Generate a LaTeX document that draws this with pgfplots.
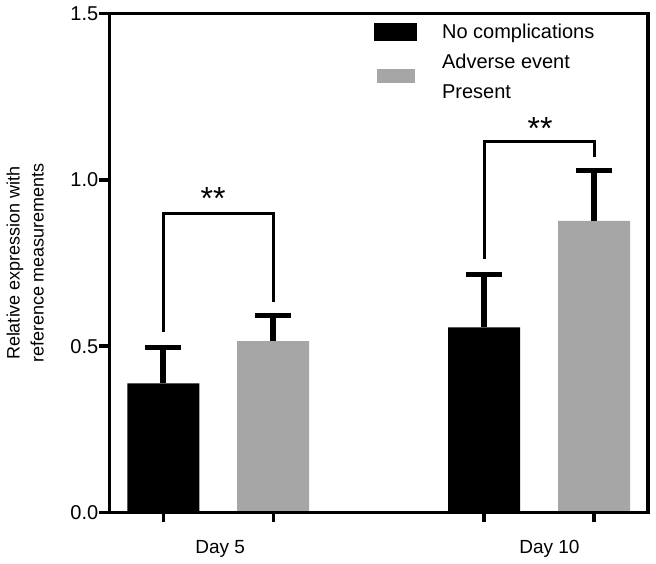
\documentclass[border=0pt]{standalone}
\usepackage{fontspec}
\setmainfont{Liberation Sans}
\usepackage{pgfplots}
\pgfplotsset{compat=1.18}
\usetikzlibrary{calc}
\definecolor{bargray}{HTML}{A6A6A6}

\begin{document}
\begin{tikzpicture}
\begin{axis}[
  scale only axis, width=269.5pt, height=249.5pt,
  xmin=0.509, xmax=5.409, ymin=0, ymax=1.5,
  clip=false, axis on top,
  axis line style={line width=1.7pt, line cap=rect},
  xtick={1,2,3.918,4.918}, xticklabels={},
  ytick={0,0.5,1,1.5},
  yticklabel style={/pgf/number format/fixed, /pgf/number format/fixed zerofill,
    /pgf/number format/precision=1, xshift=3pt},
  /pgf/number format/assume math mode=true,
  tick label style={font=\fontsize{10}{12}\selectfont},
  tick align=outside, xtick pos=bottom, ytick pos=left,
  major tick length=5pt,
  tick style={line width=1.7pt, black},
  ylabel={Relative expression with\\reference measurements},
  ylabel style={align=center, font=\fontsize{9}{12}\selectfont,
    at={(axis description cs:-0.156,0.5)}, anchor=center},
  legend cell align=left,
  legend style={at={(axis description cs:0.4917,0.9805)}, anchor=north west,
    draw=none, fill=none, inner sep=0pt, outer sep=0pt,
    row sep=6.5pt, column sep=12.5pt,
    nodes={inner sep=0pt, align=left},
    font=\fontsize{10}{15}\selectfont},
]
\addplot[ybar, bar width=0.655, bar shift=0pt, fill=black, draw=none,
  legend image code/.code={\fill[black] (0pt,-4.5pt) rectangle (21.5pt,4.5pt);},
  error bars/.cd, y dir=plus, y explicit,
  error bar style={line width=3pt, black},
  error mark options={rotate=90, line width=2.5pt, mark size=9pt, black}]
  coordinates {(1,0.388) +- (0,0.109) (3.918,0.556) +- (0,0.158)};
\addlegendentry{No complications}
\addplot[ybar, bar width=0.655, bar shift=0pt, fill=bargray, draw=none,
  legend image code/.code={\fill[bargray] (1.5pt,-2.5pt) rectangle (20.5pt,4.5pt);},
  error bars/.cd, y dir=plus, y explicit,
  error bar style={line width=3pt, black},
  error mark options={rotate=90, line width=2.5pt, mark size=9pt, black}]
  coordinates {(2,0.515) +- (0,0.078) (4.918,0.877) +- (0,0.150)};
\addlegendentry{Adverse event\\Present}

% significance brackets
\draw[line width=1.5pt] (axis cs:1,0.542) |- (axis cs:2,0.898) -- (axis cs:2,0.633);
\draw[line width=1.5pt] (axis cs:3.918,0.762) |- (axis cs:4.918,1.114) -- (axis cs:4.918,1.069);
\node[font=\fontsize{16}{16}\selectfont, anchor=base] at (axis cs:1.454,0.91) {**};
\node[font=\fontsize{16}{16}\selectfont, anchor=base] at (axis cs:4.427,1.12) {**};

% group labels
\node[font=\fontsize{9.5}{11}\selectfont, anchor=base, yshift=-20.5pt] at (axis cs:1.518,0) {Day 5};
\node[font=\fontsize{9.5}{11}\selectfont, anchor=base, yshift=-20.5pt] at (axis cs:4.513,0) {Day 10};
\end{axis}
\path ($(current axis.south west)+(-54.5pt,-23.5pt)$) rectangle ($(current axis.north east)+(4pt,4.5pt)$);
\end{tikzpicture}
\end{document}
